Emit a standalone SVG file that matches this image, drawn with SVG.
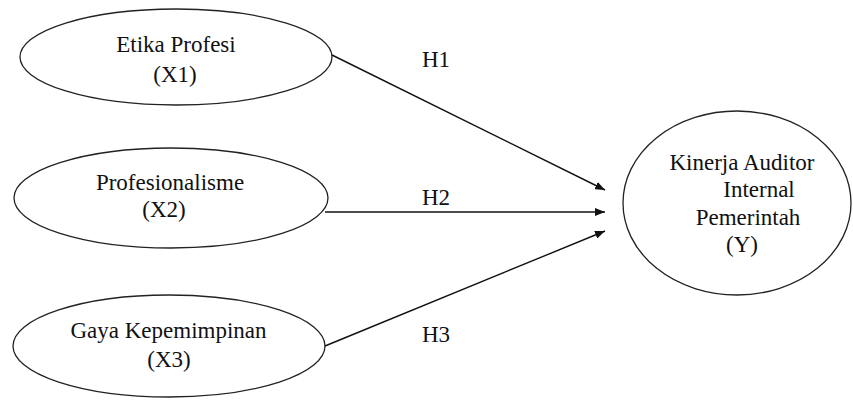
<svg xmlns="http://www.w3.org/2000/svg" width="853" height="401" viewBox="0 0 853 401">
<style>
.node ellipse{fill:#fff;stroke:#222;stroke-width:1.3}
.conn line{stroke:#111;stroke-width:1.4;marker-end:url(#ah)}
</style>
<defs>
<marker id="ah" viewBox="0 0 10 8" refX="10" refY="4" markerWidth="10" markerHeight="8" markerUnits="userSpaceOnUse" orient="auto">
<path d="M0,0 L10,4 L0,8 Z" fill="#111"/>
</marker>
</defs>
<rect width="853" height="401" fill="#fff"/>
<g id="x1" class="node">
<ellipse cx="176" cy="57" rx="156" ry="48"/>
<text x="176" y="52" font-family="Liberation Serif" font-size="23" fill="#111" text-anchor="middle">Etika Profesi</text>
<text x="175" y="82" font-family="Liberation Serif" font-size="23" fill="#111" text-anchor="middle">(X1)</text>
</g>
<g id="x2" class="node">
<ellipse cx="171" cy="198" rx="157" ry="50"/>
<text x="170" y="190" font-family="Liberation Serif" font-size="23" fill="#111" text-anchor="middle">Profesionalisme</text>
<text x="164" y="217" font-family="Liberation Serif" font-size="23" fill="#111" text-anchor="middle">(X2)</text>
</g>
<g id="x3" class="node">
<ellipse cx="169" cy="346" rx="156" ry="51"/>
<text x="168.5" y="338" font-family="Liberation Serif" font-size="23" fill="#111" text-anchor="middle">Gaya Kepemimpinan</text>
<text x="169" y="367" font-family="Liberation Serif" font-size="23" fill="#111" text-anchor="middle">(X3)</text>
</g>
<g id="y" class="node">
<ellipse cx="737" cy="203" rx="114" ry="92"/>
<text x="742" y="170" font-family="Liberation Serif" font-size="23" fill="#111" text-anchor="middle">Kinerja Auditor</text>
<text x="759" y="197" font-family="Liberation Serif" font-size="23" fill="#111" text-anchor="middle">Internal</text>
<text x="748" y="225" font-family="Liberation Serif" font-size="23" fill="#111" text-anchor="middle">Pemerintah</text>
<text x="742" y="252" font-family="Liberation Serif" font-size="23" fill="#111" text-anchor="middle">(Y)</text>
</g>
<g id="connectors" class="conn">
<line x1="332" y1="55" x2="605" y2="190"/>
<line x1="325" y1="212" x2="605" y2="212"/>
<line x1="325" y1="346" x2="605" y2="231"/>
</g>
<g id="labels">
<text x="436" y="67" font-family="Liberation Serif" font-size="23" fill="#111" text-anchor="middle">H1</text>
<text x="436" y="205" font-family="Liberation Serif" font-size="23" fill="#111" text-anchor="middle">H2</text>
<text x="436" y="342" font-family="Liberation Serif" font-size="23" fill="#111" text-anchor="middle">H3</text>
</g>
</svg>
